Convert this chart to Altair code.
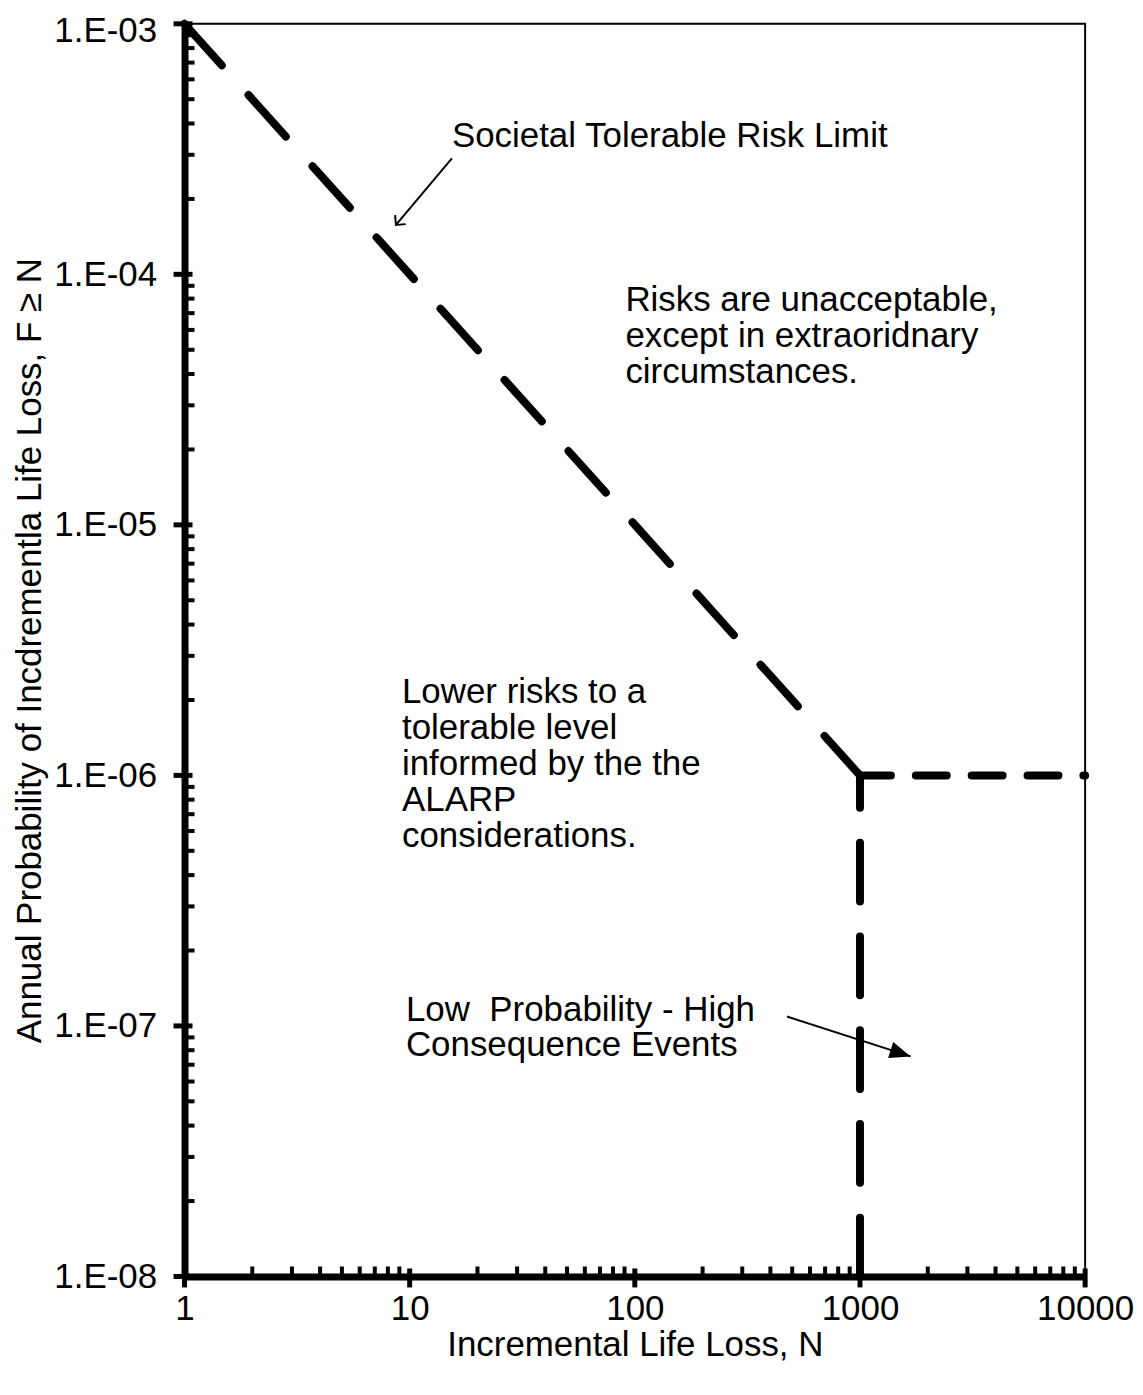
import math
import altair as alt
import pandas as pd

# ---------------- data ----------------
limit_N = [1, 1000]
limit_F = [1e-3, 1e-6]
flat_N = [1000, 10000]
flat_F = [1e-6, 1e-6]
vert_N = [1000, 1000]
vert_F = [1e-8, 1e-6]          # drawn from the bottom up

x_major = [1, 10, 100, 1000, 10000]
x_labels = ["1", "10", "100", "1000", "10000"]
y_major = [1e-8, 1e-7, 1e-6, 1e-5, 1e-4, 1e-3]
y_labels = ["1.E-08", "1.E-07", "1.E-06", "1.E-05", "1.E-04", "1.E-03"]
x_minor = [m * 10 ** k for k in range(0, 4) for m in range(2, 10)]
y_minor = [m * 10.0 ** k for k in range(-8, -3) for m in range(2, 10)]

# annotation text (position = first line, left edge)
note_text = [
    "Societal Tolerable Risk Limit",
    "Risks are unacceptable,\nexcept in extraoridnary\ncircumstances.",
    "Lower risks to a\ntolerable level\ninformed by the the\nALARP\nconsiderations.",
    "Low \u00a0Probability - High\nConsequence Events",
]
note_N = [15.4, 90.8, 9.24, 9.62]
note_F = [3.56e-4, 7.86e-5, 2.15e-6, 1.162e-7]

arrow_N1 = [15.4, 474.0]
arrow_F1 = [2.90e-4, 1.090e-7]
arrow_N2 = [8.69, 1678.0]
arrow_F2 = [1.574e-4, 7.556e-8]

# ---------------- layout ----------------
W, H = 903, 1256
TOP = 14
FONT = "Liberation Sans"
FS = 35
X_DOM = [1, 10000]
Y_DOM = [1e-8, 1e-3]


def label_expr(values, labels):
    expr = "'" + labels[-1] + "'"
    for v, l in reversed(list(zip(values[:-1], labels[:-1]))):
        expr = f"datum.value < {v * 1.5} ? '{l}' : ({expr})"
    return expr


xs = alt.Scale(type="log", domain=X_DOM, nice=False)
ys = alt.Scale(type="log", domain=Y_DOM, nice=False)

x_axis = alt.Axis(values=x_major, labelExpr=label_expr(x_major, x_labels), ticks=False,
                  grid=False, domainWidth=7, domainColor="black", labelFont=FONT,
                  labelFontSize=FS, labelColor="black", labelPadding=15, labelFlush=False,
                  labelOverlap=False, title="Incremental Life Loss, N", titleFont=FONT,
                  titleFontSize=FS, titleFontWeight="normal", titleColor="black", titlePadding=1)
y_axis = alt.Axis(values=y_major, labelExpr=label_expr(y_major, y_labels), ticks=False,
                  grid=False, domainWidth=7, domainColor="black", labelFont=FONT,
                  labelFontSize=FS, labelColor="black", labelPadding=28, labelFlush=False,
                  labelOffset={"condition": {"test": f"datum.value > {Y_DOM[1] * 0.5}", "value": 7},
                               "value": 0},
                  labelOverlap=False, title="Annual Probability of Incdrementla Life Loss, F \u2265 N",
                  titleFont=FONT, titleFontSize=FS, titleFontWeight="normal", titleColor="black",
                  titlePadding=6)


def X(f="N"):
    return alt.X(f, type="quantitative", scale=xs, axis=x_axis)


def Y(f="F"):
    return alt.Y(f, type="quantitative", scale=ys, axis=y_axis)


diag = alt.Chart(pd.DataFrame({"N": limit_N, "F": limit_F})).mark_line(
    color="black", strokeWidth=8, strokeDash=[56, 40], strokeCap="round"
).encode(x=X(), y=Y())

flat = alt.Chart(pd.DataFrame({"N": flat_N, "F": flat_F})).mark_line(
    color="black", strokeWidth=8, strokeDash=[31, 25], strokeCap="round"
).encode(x=X(), y=Y())

vert = alt.Chart(pd.DataFrame({"N": vert_N, "F": vert_F, "k": list(range(len(vert_F)))})).mark_line(
    color="black", strokeWidth=8, strokeDash=[59, 35], strokeCap="round"
).encode(x=X(), y=Y(), order=alt.Order("k:Q"))

xminor = alt.Chart(pd.DataFrame({"N": x_minor})).mark_rule(color="black", strokeWidth=4).encode(
    x=X(), y=alt.value(H - 10), y2=alt.value(H))
xmajor = alt.Chart(pd.DataFrame({"N": x_major})).mark_rule(color="black", strokeWidth=5).encode(
    x=X(), y=alt.value(H - 8), y2=alt.value(H + 11))
yminor = alt.Chart(pd.DataFrame({"F": y_minor})).mark_rule(color="black", strokeWidth=4).encode(
    y=Y(), x=alt.value(0), x2=alt.value(10))
ymajor = alt.Chart(pd.DataFrame({"F": y_major})).mark_rule(color="black", strokeWidth=5).encode(
    y=Y(), x=alt.value(-11), x2=alt.value(8))

arrows_df = pd.DataFrame({"N": arrow_N1, "F": arrow_F1, "N2": arrow_N2, "F2": arrow_F2})
arrow_lines = alt.Chart(arrows_df).mark_rule(color="black", strokeWidth=2).encode(
    x=X(), y=Y(), x2="N2:Q", y2="F2:Q")


def px(n, f):
    return ((math.log10(n) - math.log10(X_DOM[0])) / (math.log10(X_DOM[1]) - math.log10(X_DOM[0])) * W,
            (math.log10(Y_DOM[1]) - math.log10(f)) / (math.log10(Y_DOM[1]) - math.log10(Y_DOM[0])) * H)


def head_angle(i):
    x1, y1 = px(arrow_N1[i], arrow_F1[i])
    x2, y2 = px(arrow_N2[i], arrow_F2[i])
    return math.degrees(math.atan2(y2 - y1, x2 - x1)) % 360


head1 = alt.Chart(pd.DataFrame({"N": arrow_N2[:1], "F": arrow_F2[:1]})).mark_point(
    shape="M -1 -1 L 0 0 L -1 1", size=196, filled=False, stroke="black", strokeWidth=2,
    angle=head_angle(0), opacity=1
).encode(x=X(), y=Y())

head2 = alt.Chart(pd.DataFrame({"N": arrow_N2[1:], "F": arrow_F2[1:]})).mark_point(
    shape="M 0 0 L -1 -0.4 L -1 0.4 Z", size=1764, filled=True, color="black",
    angle=head_angle(1), opacity=1
).encode(x=X(), y=Y())

notes = alt.Chart(pd.DataFrame({"N": note_N, "F": note_F, "t": note_text})).mark_text(
    align="left", baseline="middle", font=FONT, fontSize=FS, lineHeight=36,
    color="black", lineBreak="\n"
).encode(x=X(), y=Y(), text="t:N")

chart = alt.layer(
    diag, flat, vert, xminor, xmajor, yminor, ymajor, arrow_lines, head1, head2, notes
).properties(
    width=W, height=H,
    autosize=alt.AutoSizeParams(type="none"),
    padding={"left": 177, "top": TOP, "right": 50, "bottom": 110},
    background="white",
).configure_view(stroke="black", strokeWidth=2)

chart.save("out.html", embed_options={"renderer": "svg", "actions": False})
